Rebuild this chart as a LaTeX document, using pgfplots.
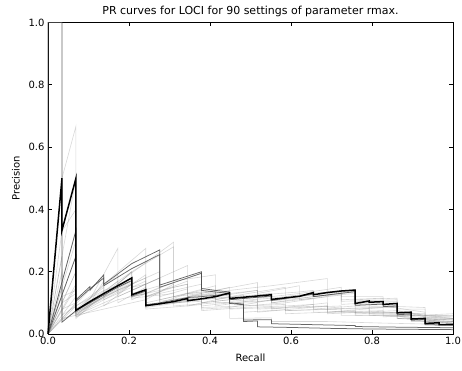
\documentclass[border=0pt]{standalone}
\usepackage{pgfplots}
\pgfplotsset{compat=1.18}
\usepackage{fontspec}
\setmainfont{DejaVu Sans}
\pgfplotsset{
  light/.style={black!55, opacity=0.28, line width=0.6pt, no markers},
  dark/.style={black!70, opacity=0.85, line width=0.75pt, no markers},
  thick/.style={black, line width=1.5pt, no markers},
}
\begin{document}
\begin{tikzpicture}
\useasboundingbox (-48pt,-37pt) rectangle (414pt,334pt);
\begin{axis}[
  at={(0,0)}, anchor=south west,
  scale only axis, width=405pt, height=311.5pt,
  xmin=0, xmax=1, ymin=0, ymax=1,
  xtick={0,0.2,0.4,0.6,0.8,1}, ytick={0,0.2,0.4,0.6,0.8,1},
  tick align=inside, major tick length=4pt,
  tick style={black, line width=0.6pt},
  axis line style={black, line width=0.8pt},
  /pgf/number format/.cd, fixed, fixed zerofill, precision=1, assume math mode=true,
  /pgfplots/.cd,
  tick label style={font=\fontsize{10}{12}\selectfont},
  title={PR curves for LOCI for 90 settings of parameter rmax.},
  title style={at={(axis description cs:0.5,1)}, anchor=south, inner sep=2pt, yshift=-2pt, font=\fontsize{11}{13}\selectfont},
  xlabel={Recall}, ylabel={Precision},
  xlabel style={at={(axis description cs:0.5,-0.077)}, anchor=center, font=\fontsize{10}{12}\selectfont},
  ylabel style={at={(axis description cs:-0.079,0.5)}, anchor=center, font=\fontsize{10}{12}\selectfont},
  clip=false,
]
% light curves
\addplot[light] coordinates {(0,0)(.0345,.5)(.069,.667)(.069,.055)(.1034,.085)(.1379,.11)(.1724,.135)(.2069,.16)(.2069,.11)(.2759,.15)(.2759,.10)(.3448,.13)(.3448,.09)(.4483,.12)(.4483,.085)(.5517,.11)(.5517,.08)(.6897,.10)(.6897,.07)(.8276,.085)(.8276,.055)(1,.065)};
\addplot[light] coordinates {(0,0)(.069,.5)(.069,.08)(.1379,.15)(.1379,.12)(.2069,.2)(.2069,.15)(.2414,.17)(.2414,.13)(.3103,.165)(.3103,.12)(.4138,.155)(.4138,.12)(.5172,.14)(.5172,.115)(.6207,.13)(.6207,.11)(.7241,.125)(.7241,.105)(.8621,.11)(.8621,.07)(1,.05)};
\addplot[light] coordinates {(0,0)(.069,.25)(.069,.06)(.1724,.17)(.1724,.10)(.2414,.15)(.2414,.11)(.3103,.16)(.3103,.10)(.4138,.13)(.4138,.09)(.5172,.11)(.5172,.07)(.6897,.09)(.6897,.065)(.8621,.075)(.8621,.05)(1,.045)};
\addplot[light] coordinates {(0,0)(.0345,.2)(.0345,.05)(.1379,.19)(.1379,.09)(.2069,.16)(.2414,.18)(.2414,.12)(.3448,.17)(.3448,.12)(.4483,.15)(.4483,.12)(.5862,.15)(.5862,.12)(.7241,.14)(.7241,.11)(.8276,.115)(.8276,.09)(.931,.085)(.931,.06)(1,.058)};
\addplot[light] coordinates {(0,0)(.069,.15)(.069,.06)(.1379,.12)(.2069,.2)(.3103,.28)(.3103,.17)(.4138,.19)(.4138,.11)(.4828,.125)(.4828,.09)(.5862,.10)(.6897,.12)(.6897,.08)(.7931,.085)(.7931,.06)(1,.05)};
\addplot[light] coordinates {(0,0)(.0345,.1)(.069,.13)(.069,.07)(.1034,.11)(.1724,.275)(.1724,.13)(.2414,.19)(.2414,.12)(.3103,.15)(.3448,.16)(.3448,.13)(.4138,.14)(.5172,.165)(.5172,.13)(.6207,.155)(.6207,.13)(.7241,.15)(.7241,.12)(.8276,.12)(.8276,.09)(.931,.07)(.931,.045)(1,.035)};
\addplot[light] coordinates {(0,0)(.069,.2)(.069,.07)(.1379,.16)(.2414,.275)(.2414,.12)(.3103,.14)(.3793,.16)(.3793,.10)(.4483,.11)(.5517,.13)(.5517,.10)(.6552,.115)(.6552,.08)(.7586,.09)(.7586,.065)(.8966,.07)(.8966,.04)(1,.04)};
\addplot[light] coordinates {(0,0)(.0345,.05)(.069,.06)(.1379,.08)(.2069,.10)(.2414,.11)(.2414,.08)(.3448,.09)(.3793,.095)(.3793,.075)(.4828,.085)(.4828,.07)(.5862,.078)(.5862,.065)(.6897,.07)(.7586,.075)(.7586,.06)(.8621,.062)(.8621,.05)(1,.045)};
\addplot[light] coordinates {(0,0)(.069,.12)(.069,.07)(.1379,.13)(.2069,.17)(.2069,.12)(.3448,.16)(.3448,.12)(.4483,.14)(.5517,.155)(.6897,.178)(.6897,.13)(.7586,.14)(.7586,.11)(.8621,.115)(.8621,.08)(.931,.08)(.931,.055)(1,.05)};
\addplot[light] coordinates {(0,0)(.069,.1)(.069,.05)(.1379,.13)(.3103,.295)(.3103,.12)(.3793,.13)(.3793,.09)(.4483,.10)(.4483,.08)(.5517,.085)(.6897,.09)(.6897,.07)(.8276,.075)(.8276,.06)(1,.06)};
\addplot[light] coordinates {(0,0)(.0345,.15)(.0345,.06)(.069,.09)(.1379,.14)(.2069,.17)(.2069,.13)(.2759,.155)(.2759,.105)(.3793,.125)(.4483,.135)(.4483,.118)(.5517,.13)(.5517,.115)(.6552,.13)(.7586,.143)(.7586,.105)(.8621,.105)(.8621,.075)(.931,.055)(.931,.04)(1,.035)};
\addplot[light] coordinates {(0,0)(.069,.09)(.069,.06)(.1724,.12)(.2759,.18)(.2759,.10)(.3793,.12)(.3793,.08)(.4483,.085)(.4483,.05)(.5517,.052)(.5517,.04)(.6897,.04)(.8276,.035)(1,.03)};
\addplot[light] coordinates {(0,0)(.069,.16)(.069,.075)(.2069,.2)(.2069,.14)(.3448,.22)(.3448,.13)(.4138,.135)(.4138,.10)(.5172,.105)(.5862,.11)(.5862,.075)(.7241,.08)(.7241,.06)(.8621,.06)(1,.055)};
\addplot[light] coordinates {(0,0)(.0345,.33)(.069,.4)(.069,.09)(.1034,.12)(.1724,.19)(.1724,.12)(.2759,.18)(.2759,.12)(.3448,.145)(.3448,.12)(.4483,.13)(.5172,.14)(.5172,.125)(.6207,.135)(.6552,.14)(.6552,.12)(.7586,.138)(.7586,.10)(.8621,.10)(.8621,.075)(.931,.06)(.931,.045)(1,.04)};
\addplot[light] coordinates {(0,0)(.069,.3)(.069,.07)(.2069,.17)(.2069,.12)(.2414,.135)(.2414,.088)(.3448,.108)(.4483,.125)(.4483,.11)(.5517,.12)(.5517,.106)(.6552,.126)(.6552,.12)(.7586,.135)(.7586,.094)(.8276,.098)(.8276,.09)(.8621,.092)(.8621,.064)(.8966,.066)(.8966,.045)(.931,.047)(.931,.032)(1,.03)};
\addplot[light] coordinates {(0,0)(.0345,.25)(.0345,.045)(.069,.07)(.2069,.165)(.2069,.118)(.2414,.13)(.2414,.085)(.3448,.105)(.4483,.12)(.4483,.105)(.5517,.115)(.5517,.1)(.6552,.12)(.7586,.13)(.7586,.09)(.8621,.088)(.8621,.06)(.931,.045)(.931,.03)(1,.027)};
\addplot[light] coordinates {(0,0)(.069,.2)(.069,.065)(.1724,.14)(.2069,.16)(.2069,.115)(.3103,.13)(.3103,.1)(.4138,.115)(.5172,.118)(.5172,.104)(.6207,.115)(.7241,.13)(.7241,.095)(.7931,.1)(.7931,.085)(.8621,.085)(.8621,.058)(.931,.04)(1,.035)};
\addplot[light] coordinates {(0,0)(.0345,.08)(.069,.1)(.069,.055)(.1724,.11)(.2414,.13)(.2414,.09)(.3103,.1)(.3793,.105)(.3793,.085)(.4828,.09)(.5862,.095)(.5862,.075)(.6897,.08)(.7931,.082)(.7931,.065)(.8966,.065)(.8966,.05)(1,.05)};
\addplot[light] coordinates {(0,0)(.069,.33)(.069,.065)(.1379,.12)(.2069,.16)(.2759,.2)(.2759,.11)(.3793,.14)(.3793,.1)(.4828,.115)(.4828,.085)(.5862,.09)(.6552,.095)(.6552,.07)(.7586,.07)(.8621,.068)(.8621,.05)(1,.04)};
\addplot[light] coordinates {(0,0)(.0345,.12)(.069,.14)(.069,.08)(.1034,.1)(.1379,.17)(.1379,.11)(.2069,.15)(.2414,.16)(.2414,.1)(.3103,.12)(.3103,.09)(.4138,.1)(.5172,.1)(.5172,.08)(.6207,.085)(.7241,.09)(.7241,.07)(.8276,.07)(.931,.065)(.931,.05)(1,.045)};
% dark curves
\addplot[dark] coordinates {(0,0)(0,1)(.0345,1)(.0345,.038)(.069,.075)(.1034,.10)(.1379,.125)(.1724,.15)(.2069,.172)(.2069,.122)(.2414,.138)(.2414,.094)(.2759,.10)(.3448,.117)(.3793,.12)(.4483,.128)(.4483,.11)(.5517,.122)(.5517,.108)(.6552,.128)(.6552,.12)(.7586,.136)(.7586,.092)(.8276,.096)(.8276,.088)(.8621,.09)(.8621,.062)(.8966,.064)(.8966,.044)(.931,.046)(.931,.03)(1,.028)};
\addplot[dark] coordinates {(0,0)(.069,.333)(.069,.11)(.1034,.152)(.1034,.14)(.1379,.19)(.1379,.16)(.2069,.226)(.2759,.27)(.2759,.157)(.3793,.20)(.3793,.146)(.4138,.14)(.4483,.135)(.4483,.10)(.4828,.096)(.4828,.040)(.5172,.042)(.5172,.023)(.6,.021)(.7,.018)(.8,.016)(.9,.015)(1,.014)};
\addplot[dark] coordinates {(0,0)(.069,.25)(.069,.105)(.1034,.145)(.1379,.18)(.1379,.155)(.2069,.21)(.2759,.255)(.2759,.15)(.3793,.195)(.3793,.14)(.4483,.13)(.4483,.098)(.4828,.094)(.4828,.045)(.5517,.046)(.5517,.033)(.6552,.03)(.7586,.027)(.7586,.024)(.8621,.022)(1,.02)};
% thick curve
\addplot[thick] coordinates {(0,0)(.0345,.5)(.0345,.333)(.069,.5)(.069,.076)(.1034,.104)(.1379,.13)(.1724,.155)(.2069,.18)(.2069,.126)(.2414,.142)(.2414,.091)(.2759,.097)(.3103,.104)(.3448,.114)(.3448,.107)(.3793,.113)(.4138,.120)(.4483,.132)(.4483,.114)(.4828,.118)(.5172,.122)(.5517,.126)(.5517,.111)(.5862,.116)(.6207,.121)(.6552,.133)(.6552,.126)(.6897,.133)(.7241,.138)(.7586,.141)(.7586,.098)(.7931,.106)(.7931,.102)(.8276,.104)(.8276,.095)(.8621,.098)(.8621,.068)(.8966,.070)(.8966,.048)(.931,.050)(.931,.034)(.9655,.036)(.9655,.030)(1,.031)};
\end{axis}
\end{tikzpicture}
\end{document}
